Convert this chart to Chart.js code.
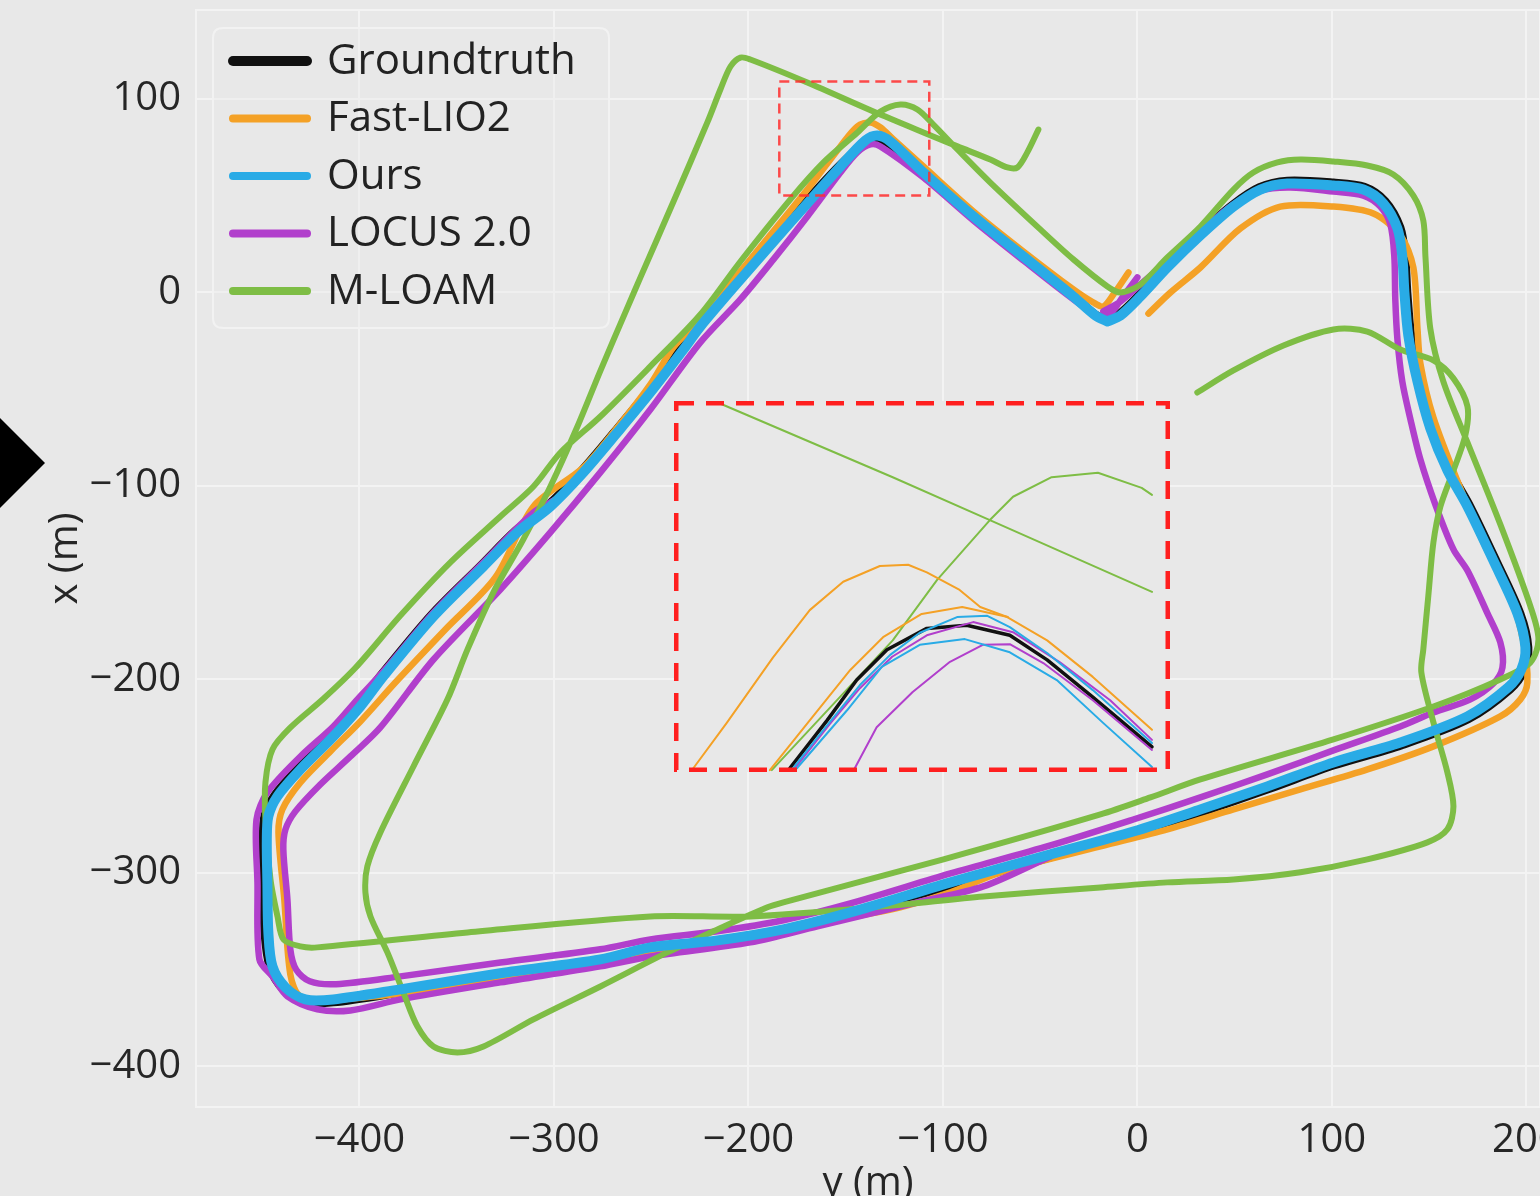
<!DOCTYPE html>
<html>
<head>
<meta charset="utf-8">
<title>Trajectory comparison</title>
<script src="https://cdn.jsdelivr.net/npm/chart.js@4.4.1/dist/chart.umd.min.js"></script>
<style>
  html, body { margin: 0; padding: 0; background: #e8e8e8; overflow: hidden; }
  #wrap { position: relative; width: 1540px; height: 1196px; }
  #traj { position: absolute; left: 0; top: 0; }
  #zoom { position: absolute; left: 674px; top: 401px; background: #e8e8e8; }
  .marker { position: absolute; left: 0; top: 418px; width: 45px; height: 90px; background: #000;
            clip-path: polygon(0 0, 100% 50%, 0 100%); }
</style>
</head>
<body>
<div id="wrap">
  <canvas id="traj" width="1540" height="1196"></canvas>
  <canvas id="zoom" width="496" height="371"></canvas>
  <div class="marker"></div>
</div>

<script>
  // every point is [y, x] in metres: y runs across, x runs up (as the axes are labelled)
  const hTicks = [-400, -300, -200, -100, 0, 100, 200];
  const vTicks = [-400, -300, -200, -100, 0, 100];
  const hRange = [-484, 207];
  const vRange = [-421, 146];
  // window shown magnified in the inset
  const zoomY = [-184.1, -107.0];
  const zoomX = [50.1, 109.0];

  const seriesNames = ["Groundtruth", "Fast-LIO2", "Ours", "LOCUS 2.0", "M-LOAM"];
  const seriesColors = ["#111111", "#F4A126", "#29ABE6", "#B13FCC", "#7EBD45"];

  const groundtruth = [[-15.9,-14.0],[-9.2,-10.9],[1.0,-1.1],[14.9,13.9],[31.9,30.5],[48.9,45.4],[62.7,54.4],
    [77.1,57.8],[100.8,56.8],[116.7,54.6],[127.5,47.2],[135.2,33.6],[137.7,18.6],[138.8,0],[140.8,-22.2],
    [145.5,-46.0],[152.1,-70.3],[160.9,-92.0],[171.2,-110.6],[184.5,-138.5],[196.9,-165.9],[201.0,-183.5],
    [198.8,-195.5],[191.7,-205.2],[170.2,-220.6],[135.7,-234.1],[101.3,-244.4],[67.3,-256.8],[32.9,-268.7],
    [-1.6,-280.1],[-44.2,-291.9],[-95.6,-306.4],[-147.1,-321.9],[-181.5,-330.7],[-215.4,-336.4],[-249.9,-340.0],
    [-275.6,-346.2],[-327.0,-353.4],[-378.4,-361.7],[-413.4,-366.9],[-428.8,-366.6],[-439.2,-360.2],[-446.0,-349.0],
    [-448.8,-330.7],[-449.3,-304.9],[-449.6,-282.7],[-448.8,-270.4],[-443.5,-259.6],[-431.3,-245.5],[-414.4,-228.5],
    [-400.5,-213.0],[-388.7,-197.4],[-362.9,-166.4],[-337.2,-140.6],[-319.8,-123.0],[-302.8,-109.6],[-285.8,-92.0],
    [-268.4,-71.4],[-251.4,-50.7],[-234.4,-28.5],[-225.7,-16.6],[-205.1,7.7],[-179.4,37.2],[-153.4,65.5],
    [-140.2,77.0],[-134.0,79.2],[-127.5,76.6],[-110.0,61.5],[-84.3,39.8],[-58.6,19.1],[-32.9,-1.6],[-21.6,-11.4],
    [-15.9,-14.0]];

  const fastLio2 = [[5.7,-10.9],[17.0,0],[32.4,12.9],[53.0,33.1],[73.5,44.4],[100.8,44.4],[121.3,40.8],[135.2,29.5],
    [141.9,12.9],[144.0,-18.6],[145.5,-36.7],[152.2,-64.6],[166.1,-101.3],[177.9,-129.2],[191.8,-156.6],
    [198.5,-180.9],[200.5,-201.6],[196.9,-210.3],[186.6,-219.1],[152.2,-234.6],[118.3,-246.5],[83.8,-256.8],
    [49.4,-267.2],[15.4,-277.5],[-19.0,-286.3],[-70.4,-299.7],[-96.1,-310.1],[-121.9,-317.8],[-147.6,-323.0],
    [-182.0,-330.7],[-215.9,-336.4],[-250.4,-340.6],[-327.5,-355.0],[-378.9,-362.3],[-413.4,-365.4],[-430.3,-363.8],
    [-435.5,-352.5],[-438.6,-313.7],[-441.6,-279.1],[-439.6,-267.2],[-430.3,-253.2],[-414.9,-237.2],[-399.5,-221.7],
    [-381.5,-201.6],[-355.8,-174.2],[-330.1,-147.3],[-310.5,-110.6],[-284.8,-90.4],[-267.4,-69.8],
    [-250.4,-47.5],[-238.6,-28.4],[-224.7,-14.0],[-204.1,10.9],[-169.7,53.2],[-152.7,75.5],[-144.0,85.8],
    [-137.3,87.9],[-132.1,85.3],[-125.4,79.1],[-110.0,65.1],[-84.3,41.9],[-58.6,21.2],[-32.9,1.6],[-22.6,-5.2],
    [-17.5,-7.2],[-12.3,-1.0],[-4.6,10.3]];

  const ours = [[-15.4,-15.0],[-8.7,-11.9],[1.5,-2.1],[15.4,12.9],[32.4,29.5],[49.4,44.4],[63.2,53.2],[77.1,56.3],
    [100.8,55.3],[116.2,53.2],[126.5,46.0],[133.7,33.1],[136.2,18.6],[137.3,0],[139.3,-22.2],[144.0,-46.0],
    [150.6,-70.3],[159.4,-92.0],[169.7,-110.6],[183.0,-138.5],[195.4,-165.9],[199.5,-183.5],[197.4,-194.8],
    [190.7,-204.1],[169.7,-219.1],[135.2,-232.6],[100.8,-242.9],[66.8,-255.3],[32.4,-267.2],[-2.1,-278.6],
    [-44.7,-290.4],[-96.1,-304.9],[-147.6,-320.4],[-182.0,-329.2],[-215.9,-334.9],[-250.4,-338.5],[-276.1,-344.7],
    [-327.5,-351.9],[-378.9,-360.2],[-413.4,-365.4],[-427.8,-365.4],[-438.0,-359.2],[-444.7,-348.3],[-446.8,-330.7],
    [-447.3,-304.9],[-447.6,-282.7],[-446.8,-270.8],[-442.2,-260.5],[-430.3,-246.5],[-413.4,-229.5],[-399.5,-214.0],
    [-387.7,-198.4],[-361.9,-167.4],[-336.2,-141.6],[-318.8,-124.0],[-301.8,-110.6],[-284.8,-93.0],[-267.4,-72.4],
    [-250.4,-51.7],[-233.4,-29.5],[-224.7,-17.6],[-204.1,6.7],[-178.4,36.2],[-152.7,65.1],[-139.8,78.6],
    [-133.7,81.1],[-127.0,78.0],[-110.0,62.0],[-84.3,39.3],[-58.6,18.6],[-32.9,-2.1],[-21.6,-11.9],[-15.4,-15.0]];

  const locus = [[-17.5,-9.8],[-8.7,-4.7],[1.5,4.1],[15.4,16.0],[32.4,31.5],[49.4,45.5],[63.2,52.7],[78.7,54.3],
    [100.8,52.2],[116.2,50.1],[124.9,44.4],[130.1,35.1],[132.1,18.6],[132.6,-3.6],[133.7,-24.3],[136.2,-46.0],
    [140.4,-65.6],[145.5,-86.3],[153.2,-109.6],[162.5,-132.8],[169.7,-143.7],[180.0,-165.9],[186.6,-180.9],
    [187.7,-193.8],[183.0,-202.1],[171.2,-210.3],[152.2,-217.1],[135.2,-224.3],[100.8,-236.7],[66.8,-249.1],
    [32.4,-261.0],[-2.1,-272.4],[-44.7,-285.8],[-96.1,-300.3],[-147.6,-315.8],[-182.0,-324.5],[-215.9,-330.2],
    [-250.4,-334.4],[-276.1,-339.5],[-327.5,-346.3],[-378.9,-353.5],[-412.0,-357.5],[-425.5,-356.0],[-432.5,-350.0],
    [-435.5,-339.5],[-437.0,-313.7],[-439.1,-287.9],[-438.0,-277.5],[-432.9,-268.2],[-420.1,-254.3],[-404.6,-239.8],
    [-389.2,-224.8],[-361.9,-189.7],[-327.5,-153.5],[-301.8,-124.0],[-276.1,-93.0],[-250.4,-60.5],[-224.7,-25.8],
    [-204.1,-3.6],[-187.1,17.1],[-169.7,39.3],[-152.7,62.0],[-144.0,72.4],[-137.3,76.5],[-132.1,75.5],
    [-110.0,59.4],[-84.3,37.2],[-58.6,16.5],[-32.9,-3.6],[-20.1,-11.9],[-13.9,-10.9],[-7.7,-2.6],[0,7.8]];

  // second, outer pass of LOCUS 2.0 along the bottom and left side
  const locusOuter = [[-44.7,-291.5],[-79.2,-307.0],[-113.1,-315.2],[-164.5,-327.6],[-199.0,-335.9],[-250.4,-343.2],
    [-276.1,-348.3],[-327.5,-356.6],[-378.9,-365.4],[-404.6,-371.1],[-421.6,-370.5],[-437.0,-363.8],[-444.7,-353.5],
    [-451.4,-344.7],[-452.4,-304.9],[-452.9,-272.4],[-447.3,-258.4],[-430.3,-239.8],[-413.4,-224.3],[-401.0,-210.3],
    [-387.7,-195.9],[-361.9,-165.4],[-336.2,-139.5],[-310.5,-113.7],[-299.2,-107.0]];

  const mLoam = [[30.8,-51.7],[49.4,-40.3],[75.1,-27.4],[100.8,-19.1],[118.2,-20.2],[135.2,-29.5],[152.2,-35.1],
    [162.5,-44.4],[169.7,-58.9],[168.6,-73.9],[162.5,-92.0],[155.8,-110.6],[152.2,-129.2],[149.6,-156.6],
    [147.0,-184.5],[146.0,-196.4],[152.2,-222.2],[159.4,-248.1],[162.5,-265.6],[159.4,-277.5],[149.1,-284.2],
    [118.2,-293.0],[83.8,-299.7],[49.4,-303.4],[15.4,-304.9],[-19.0,-307.5],[-79.2,-312.2],[-130.6,-317.3],
    [-199.0,-322.5],[-250.4,-322.5],[-344.4,-330.8],[-421.6,-338.5],[-430.3,-338.0],[-439.0,-334.4],[-442.1,-322.5],
    [-445.7,-303.4],[-448.3,-272.4],[-448.3,-253.2],[-444.7,-236.2],[-435.4,-224.8],[-418.5,-210.0],[-402.0,-194.0],
    [-378.9,-167.0],[-353.2,-139.5],[-327.5,-115.8],[-310.5,-100.3],[-296.6,-82.7],[-276.1,-64.1],[-250.4,-38.2],
    [-224.7,-11.4],[-204.1,16.0],[-178.4,48.1],[-161.4,67.2],[-143.9,82.7],[-132.1,93.5],[-121.8,97.2],
    [-113.1,94.6],[-104.9,86.8],[-92.5,73.9],[-75.6,56.8],[-49.9,32.6],[-32.9,17.1],[-15.4,3.1],[-8.7,0],
    [1.5,4.1],[15.4,18.1],[32.4,34.1],[49.4,53.2],[59.6,62.0],[72.0,67.2],[83.8,68.7],[100.8,67.7],[118.2,65.6],
    [131.6,61.0],[141.9,50.1],[147.0,37.2],[148.1,18.6],[150.6,-18.6],[157.3,-46.0],[169.7,-77.5],[186.6,-119.9],
    [202.1,-162.3],[206.2,-179.3],[202.1,-191.2],[186.6,-200.0],[152.2,-214.0],[100.8,-231.0],[32.4,-251.7],
    [6.7,-261.0],[-19.0,-269.8],[-99.7,-293.0],[-182.0,-315.2],[-190.2,-317.8],[-215.9,-329.2],[-241.6,-341.1],
    [-276.1,-358.7],[-310.5,-375.7],[-336.2,-389.7],[-349.6,-392.8],[-361.9,-389.7],[-370.2,-379.3],[-377.4,-361.8],
    [-385.6,-341.1],[-394.3,-322.5],[-396.9,-310.1],[-395.9,-296.6],[-389.2,-279.1],[-372.2,-245.0],[-354.7,-210.3],
    [-344.4,-184.5],[-331.1,-155.0],[-315.7,-127.6],[-301.8,-100.3],[-287.9,-69.3],[-276.1,-40.5],[-262.2,-7.8],
    [-255.5,7.8],[-238.5,47.0],[-221.1,87.9],[-214.4,104.9],[-209.2,116.8],[-204.1,121.4],[-199.0,120.4],
    [-169.7,108.5],[-135.7,93.5],[-110.0,82.7],[-92.5,75.5],[-75.6,68.7],[-66.8,64.6],[-61.7,64.6],[-56.6,72.4],
    [-50.9,84.2]];

  // finer samples shown in the magnified inset
  const insetGroundtruth = [[-166.1,50.7],[-160.3,58.3],[-155.7,64.7],[-151.0,69.5],[-144.8,72.9],[-138.6,73.4],
    [-131.9,71.8],[-126.1,67.9],[-119.0,62.0],[-109.8,54.1]];
  const insetFastLioHigh = [[-181.1,50.7],[-175.9,57.9],[-168.7,68.3],[-163.0,75.8],[-157.8,80.3],[-152.1,82.8],
    [-147.7,83.0],[-144.8,81.8],[-139.7,79.0],[-136.5,76.3],[-132.3,74.7],[-126.1,71.0],[-119.0,65.2],[-109.8,56.8]];
  const insetFastLioLow = [[-169.2,50.4],[-163.0,58.3],[-156.7,66.3],[-151.6,71.5],[-145.6,75.2],[-139.3,76.3],
    [-132.2,74.7]];
  const insetOursA = [[-165.6,50.7],[-159.9,58.0],[-155.2,63.9],[-150.5,68.7],[-145.9,72.2],[-140.1,74.7],
    [-135.4,74.9],[-131.9,73.1],[-126.1,69.0],[-119.0,63.1],[-109.8,54.7]];
  const insetOursB = [[-165.0,50.7],[-157.2,59.9],[-151.8,66.8],[-145.9,70.3],[-138.9,71.2],[-131.9,69.1],
    [-124.6,64.7],[-117.4,57.9],[-109.8,50.9]];
  const insetLocusA = [[-165.3,50.7],[-159.9,57.7],[-155.2,63.4],[-150.2,68.4],[-144.8,71.8],[-137.6,73.9],
    [-131.4,72.3],[-124.1,67.5],[-116.3,61.5],[-109.8,55.2]];
  const insetLocusB = [[-156.0,50.7],[-152.6,57.2],[-147.0,62.8],[-141.2,67.6],[-136.1,70.3],[-131.9,70.4],
    [-126.7,67.4],[-119.0,61.5],[-109.8,53.6]];
  const insetMloamA = [[-180.0,110.0],[-177.4,108.8],[-150.1,96.9],[-135.0,90.1],[-109.8,78.7]];
  const insetMloamB = [[-168.9,50.4],[-150.1,71.0],[-143.2,80.6],[-135.0,90.1],[-131.4,93.8],[-125.4,96.9],
    [-118.2,97.6],[-111.4,95.2],[-109.8,94.1]];

  Chart.defaults.font.family = '"Open Sans", sans-serif';
  Chart.defaults.color = "#262626";

  const minus = (v) => (v < 0 ? "\u2212" + Math.abs(v) : String(v));

  function track(points, colorIndex, width, tension) {
    return {
      data: points.map(([y, x]) => ({ x: y, y: x })),
      showLine: true,
      borderColor: seriesColors[colorIndex],
      borderWidth: width,
      pointRadius: 0,
      tension: tension,
      borderCapStyle: "round",
      borderJoinStyle: "round",
      fill: false,
    };
  }

  function roundedRect(ctx, x, y, w, h, r) {
    ctx.beginPath();
    ctx.moveTo(x + r, y);
    ctx.lineTo(x + w - r, y);
    ctx.quadraticCurveTo(x + w, y, x + w, y + r);
    ctx.lineTo(x + w, y + h - r);
    ctx.quadraticCurveTo(x + w, y + h, x + w - r, y + h);
    ctx.lineTo(x + r, y + h);
    ctx.quadraticCurveTo(x, y + h, x, y + h - r);
    ctx.lineTo(x, y + r);
    ctx.quadraticCurveTo(x, y, x + r, y);
    ctx.closePath();
  }

  const framePlugin = {
    id: "frame",
    beforeDatasetsDraw(chart) {
      const { ctx, chartArea: a } = chart;
      ctx.save();
      ctx.strokeStyle = "#f3f3f3";
      ctx.lineWidth = 2;
      ctx.strokeRect(a.left, a.top, a.right - a.left, a.bottom - a.top);
      ctx.restore();
    },
    afterDatasetsDraw(chart) {
      // dashed outline of the magnified window
      const { ctx, scales } = chart;
      const x0 = scales.x.getPixelForValue(zoomY[0]);
      const x1 = scales.x.getPixelForValue(zoomY[1]);
      const y0 = scales.y.getPixelForValue(zoomX[1]);
      const y1 = scales.y.getPixelForValue(zoomX[0]);
      ctx.save();
      ctx.strokeStyle = "rgba(255, 45, 45, 0.85)";
      ctx.lineWidth = 2.5;
      ctx.setLineDash([10, 6]);
      ctx.strokeRect(x0, y0, x1 - x0, y1 - y0);
      ctx.restore();
    },
  };

  const legendPlugin = {
    id: "trajLegend",
    afterDraw(chart) {
      const ctx = chart.ctx;
      ctx.save();
      roundedRect(ctx, 213, 28, 396, 300, 10);
      ctx.fillStyle = "rgba(232, 232, 232, 0.35)";
      ctx.fill();
      ctx.strokeStyle = "#f2f2f2";
      ctx.lineWidth = 2;
      ctx.stroke();
      ctx.font = '42px "Open Sans"';
      ctx.textBaseline = "middle";
      seriesNames.forEach((name, i) => {
        const y = 61 + i * 57.5;
        ctx.beginPath();
        ctx.moveTo(233, y);
        ctx.lineTo(307, y);
        ctx.strokeStyle = seriesColors[i];
        ctx.lineWidth = i === 0 ? 10 : 8;
        ctx.lineCap = "round";
        ctx.stroke();
        ctx.fillStyle = "#222";
        ctx.fillText(name, 327, y + 1);
      });
      ctx.restore();
    },
  };

  const mainChart = new Chart(document.getElementById("traj"), {
    type: "scatter",
    data: {
      // first dataset is drawn on top
      datasets: [
        track(ours, 2, 10, 0.3),
        track(mLoam, 4, 6, 0.3),
        track(locus, 3, 6.5, 0.3),
        track(locusOuter, 3, 6.5, 0.3),
        track(fastLio2, 1, 6.5, 0.3),
        track(groundtruth, 0, 8, 0.3),
      ],
    },
    options: {
      responsive: false,
      animation: false,
      layout: { padding: { top: 10, left: 0, right: 0, bottom: 0 } },
      plugins: { legend: { display: false }, tooltip: { enabled: false } },
      scales: {
        x: {
          type: "linear",
          min: hRange[0],
          max: hRange[1],
          afterBuildTicks: (s) => { s.ticks = hTicks.map((v) => ({ value: v })); },
          afterFit: (s) => { s.height = 89; s.paddingLeft = 0; s.paddingRight = 0; },
          grid: { color: "#f3f3f3", lineWidth: 2, drawTicks: false },
          border: { display: false },
          ticks: { padding: 10, font: { size: 40 }, maxRotation: 0, callback: minus },
          title: { display: true, text: "y (m)", font: { size: 40 }, padding: { top: 0, bottom: -12 } },
        },
        y: {
          type: "linear",
          min: vRange[0],
          max: vRange[1],
          afterBuildTicks: (s) => { s.ticks = vTicks.map((v) => ({ value: v })); },
          afterFit: (s) => { s.width = 196; s.paddingTop = 0; s.paddingBottom = 0; },
          grid: { color: "#f3f3f3", lineWidth: 2, drawTicks: false },
          border: { display: false },
          ticks: { padding: 15, font: { size: 40 }, callback: minus },
          title: { display: true, text: "x (m)", font: { size: 40 }, padding: { top: 42, bottom: 0 } },
        },
      },
    },
    plugins: [framePlugin, legendPlugin],
  });

  const insetBorder = {
    id: "insetBorder",
    afterDraw(chart) {
      const { ctx, width, height } = chart;
      ctx.save();
      ctx.strokeStyle = "#ff1f1f";
      ctx.lineWidth = 5;
      ctx.setLineDash([18, 12]);
      ctx.strokeRect(2, 2, width - 4, height - 4);
      ctx.restore();
    },
  };

  const insetChart = new Chart(document.getElementById("zoom"), {
    type: "scatter",
    data: {
      datasets: [
        track(insetOursA, 2, 2, 0),
        track(insetOursB, 2, 2, 0),
        track(insetLocusA, 3, 2, 0),
        track(insetLocusB, 3, 2, 0),
        track(insetGroundtruth, 0, 3.5, 0),
        track(insetFastLioHigh, 1, 2, 0),
        track(insetFastLioLow, 1, 2, 0),
        track(insetMloamA, 4, 2, 0),
        track(insetMloamB, 4, 2, 0),
      ],
    },
    options: {
      responsive: false,
      animation: false,
      layout: { padding: 0 },
      plugins: { legend: { display: false }, tooltip: { enabled: false } },
      scales: {
        x: { type: "linear", display: false, min: zoomY[0], max: zoomY[1] },
        y: { type: "linear", display: false, min: zoomX[0], max: zoomX[1] },
      },
    },
    plugins: [insetBorder],
  });
</script>
</body>
</html>
